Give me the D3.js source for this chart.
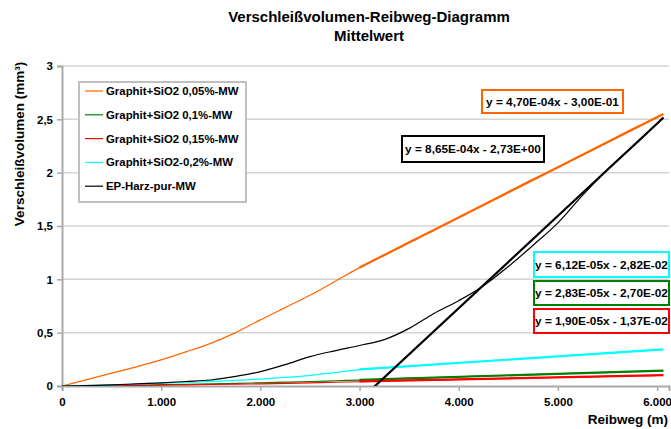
<!DOCTYPE html>
<html>
<head>
<meta charset="utf-8">
<script src="https://cdn.jsdelivr.net/npm/d3@7"></script>
<style>
  body { margin: 0; background: #fff; }
  text { font-family: "Liberation Sans", Arial, sans-serif; font-weight: bold; }
</style>
</head>
<body>
<div id="chart"></div>
<script>
// Reibweg (m)
var reibweg = [0, 250, 500, 750, 1000, 1250, 1500, 1750, 2000, 2250, 2500, 2750, 3000,
  3250, 3500, 3750, 4000, 4250, 4500, 4750, 5000, 5250, 5500, 5750, 6000, 6063];

// Verschleissvolumen (mm3), Mittelwerte
var sio2_005 = [0, 0.06, 0.12, 0.18, 0.245, 0.32, 0.40, 0.50, 0.62, 0.735, 0.85, 0.98, 1.11,
  1.23, 1.35, 1.46, 1.58, 1.70, 1.82, 1.94, 2.05, 2.17, 2.29, 2.41, 2.52, 2.55];
var sio2_01 = [0, 0.002, 0.005, 0.008, 0.012, 0.016, 0.02, 0.025, 0.03, 0.036, 0.042, 0.049, 0.056,
  0.065, 0.072, 0.079, 0.086, 0.093, 0.1, 0.107, 0.114, 0.121, 0.128, 0.136, 0.143, 0.145];
var sio2_015 = [0, 0.001, 0.003, 0.005, 0.008, 0.011, 0.014, 0.017, 0.02, 0.025, 0.03, 0.035, 0.04,
  0.048, 0.053, 0.058, 0.062, 0.067, 0.072, 0.077, 0.081, 0.086, 0.091, 0.096, 0.1, 0.102];
var sio2_02 = [0, 0.005, 0.01, 0.017, 0.025, 0.033, 0.043, 0.053, 0.065, 0.08, 0.1, 0.125, 0.153,
  0.17, 0.186, 0.2, 0.216, 0.232, 0.247, 0.262, 0.278, 0.293, 0.308, 0.324, 0.339, 0.343];
var ep_pur = [0, 0.003, 0.01, 0.02, 0.03, 0.042, 0.056, 0.09, 0.134, 0.2, 0.275, 0.33, 0.38,
  0.435, 0.54, 0.68, 0.80, 0.94, 1.12, 1.32, 1.53, 1.79, 2.03, 2.24, 2.46, 2.52];

var names = ["Graphit+SiO2 0,05%-MW", "Graphit+SiO2 0,1%-MW", "Graphit+SiO2 0,15%-MW",
  "Graphit+SiO2-0,2%-MW", "EP-Harz-pur-MW"];
var colors = ["#ff6600", "#008000", "#ff0000", "#00ffff", "#000000"];

// lineare Trendlinien (aus den Gleichungen im Diagramm)
var trendSlope = [4.70e-4, 2.83e-5, 1.90e-5, 6.12e-5, 8.65e-4];
var trendIntercept = [-3.00e-1, -2.70e-2, -1.37e-2, -2.82e-2, -2.73];
var trendLabels = ["y = 4,70E-04x - 3,00E-01", "y = 2,83E-05x - 2,70E-02", "y = 1,90E-05x - 1,37E-02",
  "y = 6,12E-05x - 2,82E-02", "y = 8,65E-04x - 2,73E+00"];
var trendFrom = 3000, trendTo = 6063;

var xTicks = [0, 1000, 2000, 3000, 4000, 5000, 6000];
var yTicks = [0, 0.5, 1, 1.5, 2, 2.5, 3];

var W = 671, H = 429;
var svg = d3.select("#chart").append("svg").attr("width", W).attr("height", H);

var x = d3.scaleLinear().domain([0, 6120]).range([62, 669]);
var y = d3.scaleLinear().domain([0, 3]).range([386, 66]);

// Titel
svg.append("text").attr("x", 369).attr("y", 22).attr("text-anchor", "middle")
  .attr("font-size", "15px").text("Verschleißvolumen-Reibweg-Diagramm");
svg.append("text").attr("x", 369).attr("y", 41).attr("text-anchor", "middle")
  .attr("font-size", "15px").text("Mittelwert");

svg.append("defs").append("clipPath").attr("id", "plotclip")
  .append("rect").attr("x", 62).attr("y", 60).attr("width", 610).attr("height", 326);

// Gitter
svg.append("g").selectAll("line").data(yTicks.slice(1)).enter().append("line")
  .attr("x1", 62).attr("x2", 669)
  .attr("y1", function(d){ return y(d); }).attr("y2", function(d){ return y(d); })
  .attr("stroke", "#d4d4d4").attr("stroke-width", 1.5);

// Achsen
var yAxis = svg.append("g").attr("transform", "translate(62,0)")
  .call(d3.axisLeft(y).tickValues(yTicks).tickSize(5).tickPadding(4)
    .tickFormat(function(d){ return String(d).replace(".", ","); }));
var xAxis = svg.append("g").attr("transform", "translate(0,386)")
  .call(d3.axisBottom(x).tickValues(xTicks).tickSize(5).tickPadding(7)
    .tickFormat(function(d){ return d == 0 ? "0" : d3.format(",")(d).replace(",", "."); }));
[xAxis, yAxis].forEach(function(a){
  a.select(".domain").attr("stroke", "#aaaaaa").attr("stroke-width", 2);
  a.selectAll(".tick line").attr("stroke", "#aaaaaa").attr("stroke-width", 1.5);
  a.selectAll("text").attr("font-size", "11.5px").attr("font-family", "Liberation Sans, Arial, sans-serif")
    .attr("font-weight", "bold").attr("fill", "#000");
});

svg.append("text").attr("x", 668).attr("y", 424).attr("text-anchor", "end")
  .attr("font-size", "13.5px").text("Reibweg (m)");
svg.append("text").attr("transform", "translate(24,144) rotate(-90)").attr("text-anchor", "middle")
  .attr("font-size", "13.5px").text("Verschleißvolumen (mm³)");

// Messkurven
var series = [sio2_005, sio2_01, sio2_015, sio2_02, ep_pur];
var line = d3.line().x(function(d){ return x(d[0]); }).y(function(d){ return y(d[1]); })
  .curve(d3.curveMonotoneX);
var plot = svg.append("g").attr("clip-path", "url(#plotclip)");
plot.selectAll("path.data").data(series).enter().append("path")
  .attr("class", "data")
  .attr("d", function(s){ return line(reibweg.map(function(r, i){ return [r, s[i]]; })); })
  .attr("fill", "none")
  .attr("stroke", function(d, i){ return colors[i]; })
  .attr("stroke-width", 1.2);

// Trendlinien
plot.selectAll("line.trend").data(trendSlope).enter().append("line")
  .attr("class", "trend")
  .attr("x1", x(trendFrom)).attr("x2", x(trendTo))
  .attr("y1", function(m, i){ return y(m * trendFrom + trendIntercept[i]); })
  .attr("y2", function(m, i){ return y(m * trendTo + trendIntercept[i]); })
  .attr("stroke", function(d, i){ return colors[i]; })
  .attr("stroke-width", 2.2);

// Gleichungen
var boxes = [[482, 90, 141, 23], [534, 281, 135, 24], [534, 309, 135, 24], [534, 252, 135, 25], [402, 136, 142, 26]];
var eq = svg.append("g").selectAll("g").data(trendLabels).enter().append("g");
eq.append("rect")
  .attr("x", function(d, i){ return boxes[i][0]; }).attr("y", function(d, i){ return boxes[i][1]; })
  .attr("width", function(d, i){ return boxes[i][2]; }).attr("height", function(d, i){ return boxes[i][3]; })
  .attr("fill", "#fff")
  .attr("stroke", function(d, i){ return colors[i]; })
  .attr("stroke-width", 2);
eq.append("text")
  .attr("x", function(d, i){ return boxes[i][0] + boxes[i][2] / 2; })
  .attr("y", function(d, i){ return boxes[i][1] + boxes[i][3] / 2; })
  .attr("dy", ".35em").attr("text-anchor", "middle").attr("font-size", "11.8px")
  .text(function(d){ return d; });

// Legende
var lg = svg.append("g");
lg.append("rect").attr("x", 79).attr("y", 82).attr("width", 167).attr("height", 120)
  .attr("fill", "#fff").attr("stroke", "#c0c0c0").attr("stroke-width", 2);
var item = lg.selectAll("g").data(names).enter().append("g")
  .attr("transform", function(d, i){ return "translate(0," + (91 + 23.8 * i) + ")"; });
item.append("line").attr("x1", 85).attr("x2", 103)
  .attr("stroke", function(d, i){ return colors[i]; }).attr("stroke-width", 1.2);
item.append("text").attr("x", 106).attr("dy", ".35em").attr("font-size", "11.4px")
  .text(function(d){ return d; });
</script>
</body>
</html>
